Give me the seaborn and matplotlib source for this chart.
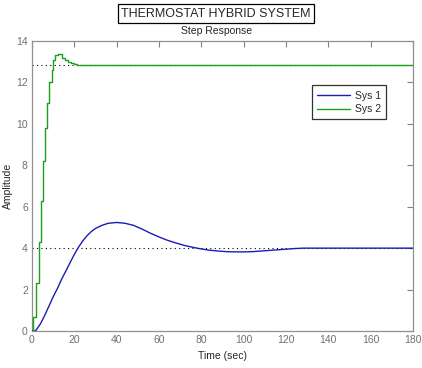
import matplotlib
matplotlib.use("Agg")
import matplotlib.pyplot as plt
import seaborn as sns
import pandas as pd

# Sys 1 (smooth step response)
sys1_time = [0, 1.4, 2, 4, 6, 8, 10, 12, 14, 16, 18, 20, 22, 24, 26, 28, 30, 33, 36, 40, 44,
             48, 52, 56, 60, 64, 68, 72, 76, 80, 84, 88, 92, 96, 100, 104, 108, 112, 116,
             120, 124, 128, 180]
sys1_amp = [0, 0, 0.05, 0.35, 0.75, 1.2, 1.65, 2.05, 2.5, 2.9, 3.3, 3.7, 4.05, 4.35, 4.6,
            4.8, 4.95, 5.1, 5.2, 5.24, 5.2, 5.1, 4.92, 4.72, 4.54, 4.38, 4.25, 4.13, 4.04,
            3.96, 3.9, 3.86, 3.83, 3.82, 3.82, 3.83, 3.86, 3.89, 3.92, 3.95, 3.98, 4.0, 4.0]

# Sys 2 (sampled step response)
sys2_time = [0, 0.7, 1.9, 3.4, 4.3, 5.0, 6.1, 7.2, 8.0, 9.3, 10.1, 11.0, 12.5, 14, 15.5,
             17, 18.5, 20, 21.5, 180]
sys2_amp = [0, 0.7, 2.3, 4.3, 6.3, 8.2, 9.8, 11.0, 12.0, 12.6, 13.1, 13.3, 13.35, 13.2,
            13.1, 13.0, 12.93, 12.88, 12.85, 12.85]

sys1_final = 4.0
sys2_final = 12.85
labels = ["Sys 1", "Sys 2"]
x_ticks = [0, 20, 40, 60, 80, 100, 120, 140, 160, 180]
y_ticks = [0, 2, 4, 6, 8, 10, 12, 14]

sns.set_style("white")
plt.rcParams["font.family"] = ["Liberation Sans", "DejaVu Sans"]

fig = plt.figure(figsize=(4.22, 3.68), dpi=100)
ax = fig.add_axes([0.0758, 0.1005, 0.9029, 0.7881])

blue = "#1c1cb4"
green = "#1aa01a"

ax.axhline(sys1_final, color="black", linestyle=(0, (1, 3)), lw=0.8, zorder=1)
ax.axhline(sys2_final, color="black", linestyle=(0, (1, 3)), lw=0.8, zorder=1)

df1 = pd.DataFrame({"t": sys1_time, "a": sys1_amp})
df2 = pd.DataFrame({"t": sys2_time, "a": sys2_amp})
sns.lineplot(data=df1, x="t", y="a", ax=ax, color=blue, lw=1.0, label=labels[0],
             zorder=3, estimator=None, sort=False)
sns.lineplot(data=df2, x="t", y="a", ax=ax, color=green, lw=1.0, label=labels[1],
             drawstyle="steps-post", zorder=3, estimator=None, sort=False)

ax.set_xlim(0, 180)
ax.set_ylim(0, 14)
ax.set_xticks(x_ticks)
ax.set_yticks(y_ticks)
ax.tick_params(direction="in", length=4, width=0.8, colors="#808080", labelsize=7.5,
               top=True, right=True, labelcolor="#707070", pad=3)
for s in ax.spines.values():
    s.set_color("#909090")
    s.set_linewidth(0.9)
ax.set_xlabel("Time (sec)", fontsize=7.5, labelpad=4)
ax.set_ylabel("Amplitude", fontsize=7.5)
ax.yaxis.set_label_coords(-0.05, 0.5)

leg = ax.legend(loc="upper left", bbox_to_anchor=(0.735, 0.847), fontsize=7.5,
                frameon=True, fancybox=False, handlelength=3.1, borderpad=0.5,
                labelspacing=0.35, handletextpad=0.5, borderaxespad=0)
leg.get_frame().set_edgecolor("black")
leg.get_frame().set_linewidth(0.9)

fig.text(0.512, 0.963, "THERMOSTAT HYBRID SYSTEM", ha="center", va="center", fontsize=9,
         bbox=dict(boxstyle="square,pad=0.25", fc="white", ec="black", lw=0.9))
fig.text(0.512, 0.917, "Step Response", ha="center", va="center", fontsize=7.5)

fig.savefig("out.png", dpi=100)
